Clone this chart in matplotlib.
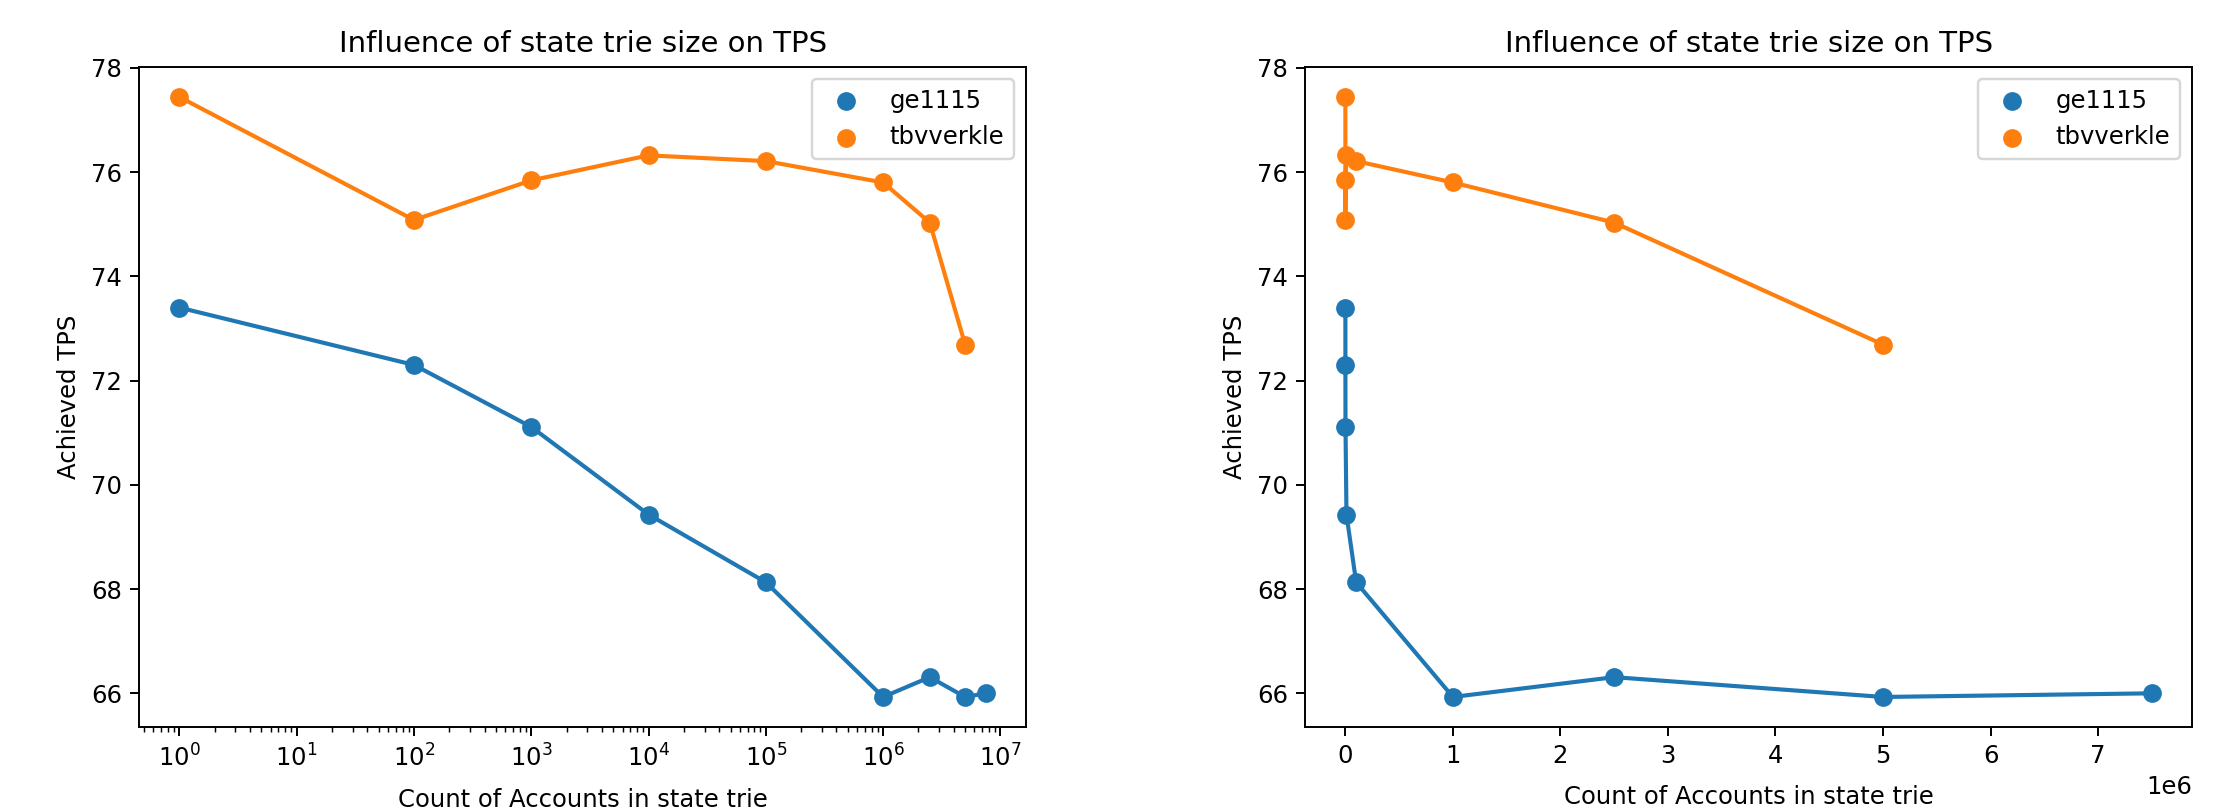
import matplotlib
matplotlib.use('Agg')
import matplotlib.pyplot as plt

# Count of accounts in the state trie
accounts_ge = [1, 100, 1000, 10000, 100000, 1000000, 2500000, 5000000, 7500000]
accounts_tbv = [1, 100, 1000, 10000, 100000, 1000000, 2500000, 5000000]

# Achieved TPS
tps_ge = [73.40, 72.30, 71.11, 69.43, 68.13, 65.93, 66.31, 65.93, 66.00]
tps_tbv = [77.44, 75.08, 75.84, 76.32, 76.21, 75.80, 75.03, 72.69]

DPI = 175
fig, axes = plt.subplots(1, 2, figsize=(2221 / DPI, 809 / DPI), dpi=DPI)
plt.subplots_adjust(left=0.0626, right=0.987, bottom=0.1014, top=0.9172, wspace=0.3145)

for i, ax in enumerate(axes):
    ax.plot(accounts_ge, tps_ge, color='C0', linewidth=1.7)
    ax.scatter(accounts_ge, tps_ge, color='C0', s=45, label='ge1115')
    ax.plot(accounts_tbv, tps_tbv, color='C1', linewidth=1.7)
    ax.scatter(accounts_tbv, tps_tbv, color='C1', s=45, label='tbvverkle')
    if i == 0:
        ax.set_xscale('log')
    ax.set_title('Influence of state trie size on TPS')
    ax.set_xlabel('Count of Accounts in state trie', labelpad=7)
    ax.set_ylabel('Achieved TPS')
    ax.legend()

plt.savefig('out.png', dpi=DPI)
